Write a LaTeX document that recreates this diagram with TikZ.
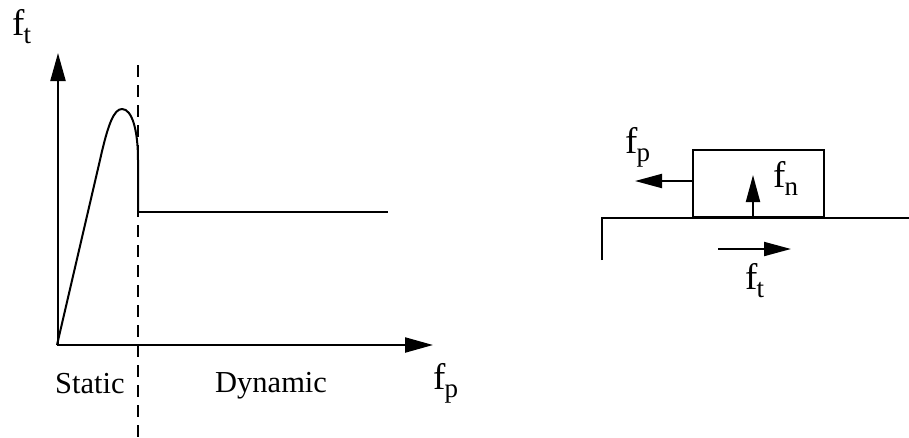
\documentclass[tikz,border=0pt]{standalone}
\usepackage{fontspec}
\setmainfont{Liberation Serif}
\usetikzlibrary{arrows.meta}
\newcommand{\ff}[1]{{\fontsize{37}{37}\selectfont f}\kern-1pt\raisebox{-8pt}{\fontsize{27}{27}\selectfont #1}}
\tikzset{
  lbl/.style={inner sep=0pt, anchor=base west},
  wlbl/.style={inner sep=0pt, anchor=base west, font=\fontsize{30.5}{30.5}\selectfont},
  axis/.style={line width=2.2pt, -{Triangle[length=28pt,width=15pt]}},
  frc/.style={line width=2pt, -{Triangle[length=27pt,width=14pt]}},
  ln/.style={line width=2pt},
  dsh/.style={line width=2pt, dash pattern=on 12pt off 8pt}
}
\begin{document}
\begin{tikzpicture}[x=1pt,y=-1pt]
\useasboundingbox (0,0) rectangle (909,437);
% graph
\coordinate (O) at (57,345);
\coordinate (Ytip) at (58,53);
\coordinate (Xtip) at (433,345);
\draw[axis] (58,345) -- (Ytip);
\draw[axis] (O) -- (Xtip);
\coordinate (D1) at (138,65);
\coordinate (D2) at (138,437);
\draw[dsh] (D1) -- (D2);
\coordinate (J) at (138,212);
\coordinate (E) at (388,212);
\draw[ln, line join=round] (O) -- (100,160) .. controls (108,124) and (114,109) .. (122,109)
  .. controls (132,109) and (138,130) .. (138,160) -- (J);
\draw[ln] (J) -- (E);
\node[lbl] (ft1) at (12,35) {\ff{t}};
\node[lbl] (fp1) at (433,389) {\ff{p}};
\node[wlbl] (st) at (55,393) {Static};
\node[wlbl] (dy) at (215,392) {Dynamic};
% block
\coordinate (G0) at (602,260);
\coordinate (G1) at (602,218);
\coordinate (G2) at (909,218);
\draw[ln] (G0) -- (G1) -- (G2);
\node[draw, line width=2pt, minimum width=131pt, minimum height=67pt, inner sep=0pt, anchor=south west] (box) at (692,218) {};
\coordinate (fpt) at (635,181);
\draw[frc] (box.west |- fpt) -- (fpt);
\coordinate (fnb) at (753,218);
\coordinate (fnt) at (753,175);
\draw[frc] (fnb) -- (fnt);
\coordinate (ftb) at (718,249);
\coordinate (ftt) at (791,249);
\draw[frc] (ftb) -- (ftt);
\node[lbl] (fp2) at (625,153) {\ff{p}};
\node[lbl] (fn) at (773,187) {\ff{n}};
\node[lbl] (ft2) at (745,289) {\ff{t}};
\end{tikzpicture}
\end{document}
